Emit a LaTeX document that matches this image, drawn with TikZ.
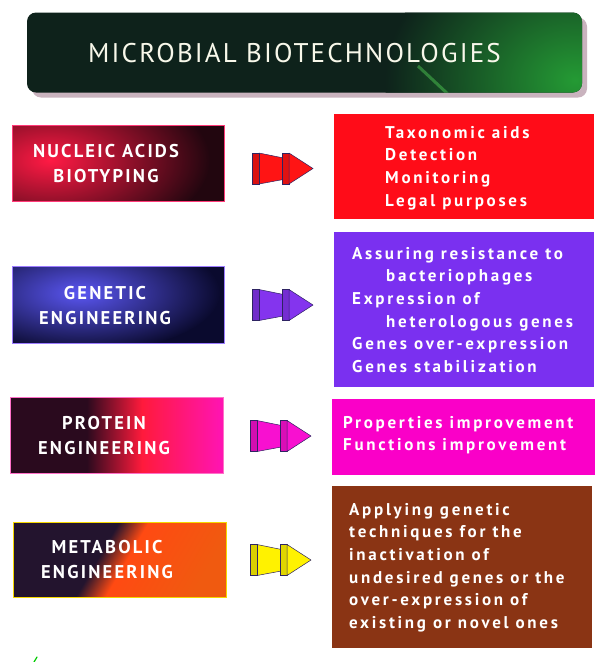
\documentclass[tikz,border=0pt]{standalone}
\usepackage{fontspec}
\setmainfont{PT Sans}
\newfontfamily\boxfont{PT Sans}[LetterSpace=16]
\newfontfamily\labelfont{PT Sans}[LetterSpace=12]
\newfontfamily\titlefont{PT Sans}[LetterSpace=8]
\usetikzlibrary{calc}
\definecolor{tdark}{HTML}{0E221B}
\definecolor{tgreen}{HTML}{249A34}
\definecolor{tshadow}{HTML}{C9B3BE}
\definecolor{titletext}{HTML}{F8F8EA}
\definecolor{ndark}{HTML}{22060F}
\definecolor{nred}{HTML}{FF1A44}
\definecolor{nborder}{HTML}{FF3A78}
\definecolor{gdark}{HTML}{0A0A2E}
\definecolor{gblue}{HTML}{5A56F2}
\definecolor{gborder}{HTML}{9C7CFF}
\definecolor{pdark}{HTML}{2A0A1E}
\definecolor{pred}{HTML}{FF1A3C}
\definecolor{pmag}{HTML}{FF14B4}
\definecolor{pborder}{HTML}{FF70C8}
\definecolor{mdark}{HTML}{23142E}
\definecolor{morange}{HTML}{FF4A12}
\definecolor{morange2}{HTML}{F05A10}
\definecolor{mborder}{HTML}{F5D800}
\definecolor{rbred}{HTML}{FF0C18}
\definecolor{rbpurple}{HTML}{7A30F0}
\definecolor{rbmag}{HTML}{FA00C8}
\definecolor{rbbrown}{HTML}{8A3414}
\definecolor{ared}{HTML}{FF1414}
\definecolor{apurple}{HTML}{8434EE}
\definecolor{amag}{HTML}{F810D0}
\definecolor{ayellow}{HTML}{FFF200}
\definecolor{aline}{HTML}{2E2462}
\pgfdeclarehorizontalshading{protshade}{100bp}{color(0bp)=(pdark); color(25bp)=(pdark); color(43bp)=(pdark); color(56bp)=(pred); color(75bp)=(pmag); color(100bp)=(pmag)}
\pgfdeclarehorizontalshading{metashade}{100bp}{color(0bp)=(mdark); color(25bp)=(mdark); color(44bp)=(mdark); color(52bp)=(morange); color(75bp)=(morange2); color(100bp)=(morange2)}
\newcommand{\leftlines}[1]{\vtop{\halign{##\hfil\cr#1\crcr}}}
\newcommand{\centerlines}[1]{\vtop{\halign{\hfil##\hfil\cr#1\crcr}}}
\tikzset{
  boxshape/.style={inner sep=0pt, outer sep=0pt},
  rtext/.style={anchor=base west, inner sep=0pt, text=white,
    font=\boxfont\bfseries\fontsize{17}{22.7}\selectfont},
  ltext/.style={anchor=base, inner sep=0pt, text=white,
    font=\labelfont\bfseries\fontsize{18.5}{25.5}\selectfont},
  pics/chevron/.style={code={
    \filldraw[fill=#1, draw=aline, line width=0.5pt, line join=round]
      (7,-15.5) -- (34,-10) -- (34,10.5) -- (7,15.5) -- cycle;
    \filldraw[fill=#1!85!black, draw=aline, line width=0.5pt]
      (0,-15.5) rectangle (7,15.5);
    \filldraw[fill=#1!88!black, draw=aline, line width=0.5pt]
      (30,-15.5) rectangle (37,15.5);
    \filldraw[fill=#1, draw=aline, line width=0.5pt, line join=round]
      (37,-15.5) -- (61,0) -- (37,15.5) -- cycle;
  }}
}
\begin{document}
\begin{tikzpicture}[x=1pt,y=-1pt]
\useasboundingbox (0,0) rectangle (612,662);
\fill[white] (0,0) rectangle (612,662);
% title
\node[boxshape, minimum width=555pt, minimum height=80pt] (tbox) at (304.5,52.5) {};
\fill[tshadow, rounded corners=9pt] ($(tbox.south west)+(5,5)$) rectangle ($(tbox.north east)+(5,5)$);
\fill[tdark, rounded corners=9pt] (tbox.south west) rectangle (tbox.north east);
\begin{scope}
  \clip[rounded corners=9pt] (tbox.south west) rectangle (tbox.north east);
  \shade[inner color=tgreen, outer color=tdark] (575,80) ellipse (190 and 150);
  \draw[green!60!white, opacity=0.35, line width=3pt] (418,66) -- (450,96);
\end{scope}
\node[anchor=base, inner sep=0pt, text=titletext, font=\titlefont\fontsize{27}{30}\selectfont] (title) at (294.5,62) {MICROBIAL BIOTECHNOLOGIES};

% row 1
\node[boxshape, minimum width=212pt, minimum height=76pt] (nuc) at (118,163) {};
\begin{scope}
  \clip (nuc.south west) rectangle (nuc.north east);
  \fill[ndark] (nuc.south west) rectangle (nuc.north east);
  \shade[inner color=nred, outer color=ndark] (50,160) ellipse (160 and 85);
\end{scope}
\draw[nborder, line width=1pt] (nuc.south west) rectangle (nuc.north east);
\node[ltext] (nuct) at (106,157) {\centerlines{NUCLEIC ACIDS\cr BIOTYPING}};
\node[boxshape, fill=rbred, minimum width=260pt, minimum height=105pt] (tax) at (464,166.5) {};
\node[rtext] (taxt) at (385,138) {\leftlines{Taxonomic aids\cr Detection\cr Monitoring\cr Legal purposes}};
\pic at (252,168.5) {chevron=ared};

% row 2
\node[boxshape, minimum width=212pt, minimum height=77pt] (gen) at (118,304.5) {};
\begin{scope}
  \clip (gen.south west) rectangle (gen.north east);
  \fill[gdark] (gen.south west) rectangle (gen.north east);
  \shade[inner color=gblue, outer color=gdark] (80,293) ellipse (140 and 60);
\end{scope}
\draw[gborder, line width=1pt] (gen.south west) rectangle (gen.north east);
\node[ltext] (gent) at (105,299) {\centerlines{GENETIC\cr ENGINEERING}};
\node[boxshape, fill=rbpurple, minimum width=260pt, minimum height=155pt] (res) at (464,309.5) {};
\node[rtext] (rest) at (352,259) {\leftlines{Assuring resistance to\cr \hskip34pt bacteriophages\cr Expression of\cr \hskip34pt heterologous genes\cr Genes over-expression\cr Genes stabilization}};
\pic at (252,305) {chevron=apurple};

% row 3
\node[boxshape, minimum width=213pt, minimum height=76pt] (pro) at (116.5,435) {};
\shade[shading=protshade] (pro.south west) rectangle (pro.north east);
\draw[pborder, line width=1pt] (pro.south west) rectangle (pro.north east);
\node[ltext] (prot) at (104,429) {\centerlines{PROTEIN\cr ENGINEERING}};
\node[boxshape, fill=rbmag, minimum width=263pt, minimum height=76pt] (prop) at (463.5,437) {};
\node[rtext] (propt) at (343,428) {\leftlines{Properties improvement\cr Functions improvement}};
\pic at (250,436) {chevron=amag};

% row 4
\node[boxshape, minimum width=213pt, minimum height=75pt] (met) at (119.5,559.5) {};
\begin{scope}
  \clip (met.south west) rectangle (met.north east);
  \shade[shading=metashade, shading angle=-30] (met.south west) rectangle (met.north east);
\end{scope}
\draw[mborder, line width=1pt] (met.south west) rectangle (met.north east);
\node[ltext] (mett) at (107,553) {\centerlines{METABOLIC\cr ENGINEERING}};
\node[boxshape, fill=rbbrown, minimum width=260pt, minimum height=162pt] (app) at (462,567) {};
\node[rtext] (appt) at (349,515) {\leftlines{Applying genetic\cr techniques for the\cr inactivation of\cr undesired genes or the\cr over-expression of\cr existing or novel ones}};
\pic at (250,560) {chevron=ayellow};

\draw[green!80!black, line width=1.2pt, line cap=round] (34,662) -- (37,657);
\end{tikzpicture}
\end{document}
